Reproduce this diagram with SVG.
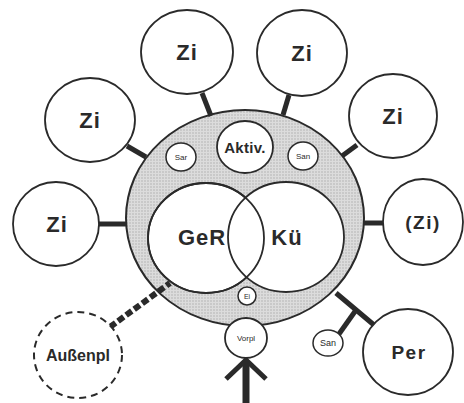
<svg xmlns="http://www.w3.org/2000/svg" width="464" height="403" viewBox="0 0 464 403">
<defs>
<pattern id="stip" width="3" height="3" patternUnits="userSpaceOnUse">
<rect width="3" height="3" fill="#dcdcdc"/>
<circle cx="1" cy="1" r="0.7" fill="#a8a8a8"/>
</pattern>
<style>
.room{fill:#fff;stroke:#2a2a2a;stroke-width:1.8}
.small{fill:#fff;stroke:#2a2a2a;stroke-width:1.5}
.dash{fill:#fff;stroke:#2a2a2a;stroke-width:2;stroke-dasharray:7 5}
.con{stroke:#2a2a2a;stroke-width:5;fill:none}
.dcon{stroke:#2a2a2a;stroke-width:6;fill:none;stroke-dasharray:7 3}
text{font-family:"Liberation Sans",Arial,sans-serif;fill:#2a2a2a;text-anchor:middle;font-weight:bold}
.big{font-size:22px;letter-spacing:1px}
.tiny{font-size:8px;font-weight:normal}
</style>
</defs>
<rect width="464" height="403" fill="#fff"/>
<g id="hub">
<ellipse cx="245" cy="218" rx="119" ry="108" fill="url(#stip)" stroke="#2a2a2a" stroke-width="2"/>
</g>
<g id="connectors">
<line class="con" x1="202" y1="93" x2="211" y2="116"/>
<line class="con" x1="289" y1="95" x2="283" y2="115"/>
<line class="con" x1="127" y1="146" x2="146" y2="157"/>
<line class="con" x1="98" y1="224" x2="127" y2="224"/>
<line class="con" x1="357" y1="145" x2="342" y2="156"/>
<line class="con" x1="363" y1="223" x2="385" y2="223"/>
<line class="con" x1="336" y1="293" x2="374" y2="325"/>
<line class="con" x1="356" y1="310" x2="339" y2="334"/>
<line class="dcon" x1="110" y1="327" x2="170" y2="283"/>
<polyline points="226,379 246,360 266,379" fill="none" stroke="#2a2a2a" stroke-width="5"/>
<line x1="246" y1="361" x2="246" y2="403" stroke="#2a2a2a" stroke-width="7"/>
</g>
<g id="GeR">
<ellipse class="room" cx="206" cy="238" rx="58" ry="55"/>
</g>
<g id="Ku">
<ellipse class="room" cx="286" cy="237" rx="58" ry="55"/>
<ellipse cx="206" cy="238" rx="58" ry="55" fill="none" stroke="#2a2a2a" stroke-width="1.8"/>
<text class="big" x="287" y="245">Kü</text>
</g>
<g id="GeR-label"><text class="big" x="202" y="245">GeR</text></g>
<g id="Aktiv">
<ellipse class="room" cx="245" cy="147" rx="28" ry="26"/>
<text x="245" y="153" style="font-size:15px;letter-spacing:0.3px">Aktiv.</text>
</g>
<g id="Sar">
<ellipse class="small" cx="181" cy="157" rx="15" ry="14"/>
<text class="tiny" x="181" y="160">Sar</text>
</g>
<g id="San1">
<ellipse class="small" cx="303" cy="156" rx="15" ry="14"/>
<text class="tiny" x="303" y="159">San</text>
</g>
<g id="Ei">
<ellipse class="small" cx="247" cy="296" rx="9" ry="9"/>
<text class="tiny" x="247" y="299" style="font-size:7px">Ei</text>
</g>
<g id="Vorpl">
<ellipse class="room" cx="246" cy="338" rx="21" ry="20"/>
<text class="tiny" x="246" y="341">Vorpl</text>
</g>
<g id="Zi1">
<ellipse class="room" cx="187" cy="52" rx="46" ry="42"/>
<text class="big" x="187" y="60">Zi</text>
</g>
<g id="Zi2">
<ellipse class="room" cx="302" cy="53" rx="45" ry="43"/>
<text class="big" x="302" y="61">Zi</text>
</g>
<g id="Zi3">
<ellipse class="room" cx="90" cy="120" rx="45" ry="42"/>
<text class="big" x="90" y="128">Zi</text>
</g>
<g id="Zi4">
<ellipse class="room" cx="56" cy="224" rx="43" ry="42"/>
<text class="big" x="57" y="232">Zi</text>
</g>
<g id="Zi5">
<ellipse class="room" cx="393" cy="116" rx="44" ry="42"/>
<text class="big" x="393" y="124">Zi</text>
</g>
<g id="Zi6">
<ellipse class="room" cx="423" cy="222" rx="40" ry="43"/>
<text x="423" y="229" style="font-size:19px;letter-spacing:1.5px">(Zi)</text>
</g>
<g id="San2">
<ellipse class="small" cx="328" cy="343" rx="15" ry="13"/>
<text class="tiny" x="328" y="346" style="font-size:9px">San</text>
</g>
<g id="Per">
<ellipse class="room" cx="408" cy="352" rx="45" ry="43"/>
<text x="409" y="359" style="font-size:19px;letter-spacing:1.5px">Per</text>
</g>
<g id="Aussenpl">
<ellipse class="dash" cx="78" cy="355" rx="44" ry="43"/>
<text x="78" y="361" style="font-size:16px">Außenpl</text>
</g>
</svg>
